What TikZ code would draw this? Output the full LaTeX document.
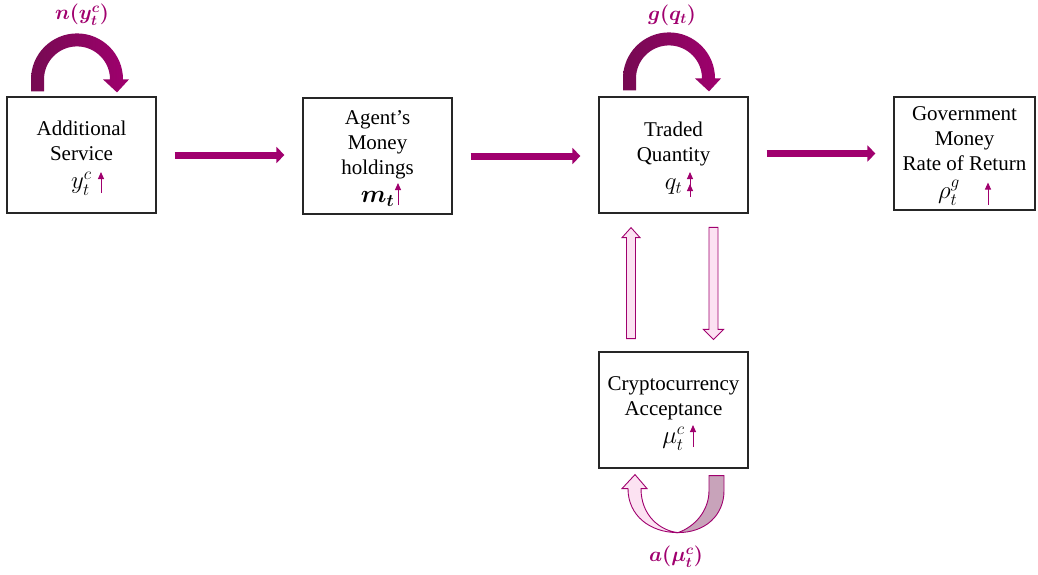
\documentclass[tikz,border=0pt]{standalone}
\usepackage{amsmath}
\usepackage{fontspec}
\setmainfont{Liberation Serif}
\usetikzlibrary{arrows.meta,calc}
\definecolor{mag}{HTML}{A0006E}
\definecolor{loopdark}{HTML}{760A52}
\definecolor{pinkfill}{HTML}{FCE2F2}
\definecolor{twistgray}{HTML}{C8A3BA}
\tikzset{%
	box/.style    = {draw=black!85, line width=1.2pt, rectangle, minimum width=149pt, minimum height=116pt, inner sep=0pt, align=center, font=\fontsize{21}{25}\selectfont},
	flow/.style   = {mag, line width=7pt, -{Triangle[width=16pt,length=8pt]}, shorten <=18pt, shorten >=18pt},
	riser/.style  = {mag, line width=1pt, -{Triangle[width=6pt,length=7pt]}},
	hollow/.style = {draw=mag, fill=pinkfill, line width=0.9pt, line join=miter},
	tag/.style    = {mag, font=\fontsize{22}{24}\selectfont\boldmath},
}
\newcommand{\loopover}[1]{%
	\shade[left color=loopdark, right color=mag, shift={(#1)}]
	(-46,12) -- (-46,0) arc[start angle=180, end angle=360, radius=46] -- (52,0) -- (40,13) -- (26,0) -- (33,0) arc[start angle=360, end angle=180, radius=33] -- (-33,12) -- cycle;}
\newcommand{\bigmath}[1]{{\fontsize{23}{25}\selectfont$#1$}}

\begin{document}
\begin{tikzpicture}[x=1pt,y=-1pt]
	\useasboundingbox (0,0) rectangle (1038,574);
	% boxes
	\node[box] (service) at (81.5,155) {\rule{0pt}{21pt}Additional\\Service\\[3pt]\bigmath{y_t^c}};
	\node[box] (money) at (377.5,156) {\rule{0pt}{19pt}Agent’s\\Money\\holdings\\[3pt]\bigmath{\boldsymbol{m_t}}};
	\node[box] (traded) at (673.5,155) {\rule{0pt}{21pt}Traded\\Quantity\\[3pt]\bigmath{q_t}};
	\node[box, minimum width=141pt, minimum height=113pt] (govt) at (964.5,153.5) {\rule{0pt}{19pt}Government\\Money\\Rate of Return\\[3pt]\bigmath{\rho_t^g}\hspace*{31pt}};
	\node[box] (accept) at (673.5,410) {\rule{0pt}{21pt}Cryptocurrency\\Acceptance\\[3pt]\bigmath{\mu_t^c}};
	
	% main chain
	\draw[flow] (service.east) -- (service.east -| money.west);
	\draw[flow] (money.east) -- (money.east -| traded.west);
	\draw[flow] (govt.west -| traded.east) -- (govt.west);
	
	% small rising arrows
	\draw[riser] ($(service.center)+(19.5,38)$) -- ++(0,-21);
	\draw[riser] ($(money.center)+(20.5,49)$) -- ++(0,-22);
	\draw[riser] ($(traded.center)+(16.5,42)$) -- ++(0,-13);
	\draw[riser] ($(traded.center)+(16.5,31)$) -- ++(0,-14);
	\draw[riser] ($(govt.center)+(23.5,51)$) -- ++(0,-22);
	\draw[riser] ($(accept.center)+(19.5,37)$) -- ++(0,-22);
	
	% feedback loops on top
	\coordinate (loopA) at ($(service.north)+(-4.5,-17)$);
	\coordinate (loopB) at ($(traded.north)+(-4.5,-18)$);
	\loopover{loopA}
	\loopover{loopB}
	\node[tag] (nlabel) at (82,15) {$n(y_t^c)$};
	\node[tag] (glabel) at (672,15) {$g(q_t)$};
	
	% two-way link
	\coordinate (upTip) at ($(traded.south)+(-42.5,14)$);
	\coordinate (downTip) at ($(accept.north)+(40,-12)$);
	\draw[hollow] (upTip) -- ++(9,10) -- ++(-4.5,0) -- ++(0,101) -- ++(-9,0) -- ++(0,-101) -- ++(-4.5,0) -- cycle;
	\draw[hollow] (downTip) -- ++(10,-10) -- ++(-5.5,0) -- ++(0,-102) -- ++(-9,0) -- ++(0,102) -- ++(-5.5,0) -- cycle;
	
	% twisted loop below
	\begin{scope}[shift={(accept.south)}]
		\draw[hollow, fill=twistgray] (35.5,7) -- (50.5,7) -- (50.5,22) .. controls (50.5,47) and (31.5,64) .. (4.5,64) .. controls (21.5,58) and (35.5,42) .. (35.5,22) -- cycle;
		\draw[hollow] (-38.5,6) -- (-26.5,20) -- (-32.5,20) .. controls (-32.5,47) and (-13.5,62) .. (4.5,64) .. controls (-23.5,64) and (-45.5,47) .. (-45.5,20) -- (-51.5,20) -- cycle;
	\end{scope}
	\node[tag] (alabel) at (676,557) {$a(\mu_t^c)$};
\end{tikzpicture}
\end{document}
